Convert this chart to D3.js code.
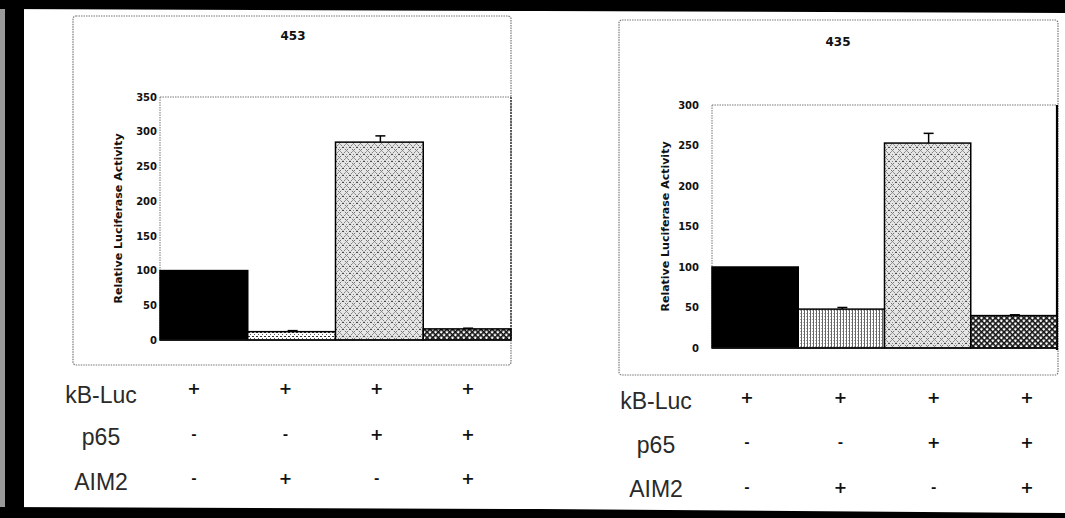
<!DOCTYPE html>
<html><head><meta charset="utf-8">
<script src="https://cdn.jsdelivr.net/npm/d3@7"></script>
<style>html,body{margin:0;padding:0;background:#fff;}svg{display:block;}</style>
</head><body>
<svg id="chart" width="1065" height="518"></svg>
<script>
// ---------- data ----------
const conditions = ["c1", "c2", "c3", "c4"];
const rowLabels = ["kB-Luc", "p65", "AIM2"];
const kbLucSigns = ["+", "+", "+", "+"];
const p65Signs = ["-", "-", "+", "+"];
const aim2Signs = ["-", "+", "-", "+"];
const titles = ["453", "435"];
const values453 = [100, 12, 285, 16];
const errors453 = [0, 1.5, 9, 1];
const values435 = [100, 48, 253, 40];
const errors435 = [0, 2, 12, 1];
const ticks453 = [0, 50, 100, 150, 200, 250, 300, 350];
const ticks435 = [0, 50, 100, 150, 200, 250, 300];
const yTitle = "Relative Luciferase Activity";

// ---------- layout ----------
const panels = [
  { title: titles[0], values: values453, errors: errors453, ticks: ticks453, max: 350,
    box: [73, 16, 438, 349], plot: [160, 511, 97, 340], titleX: 293, titleY: 40, tickPad: 3,
    yTitleX: 118, bar2: "patDots", rightBorder: "dotted",
    labelX: 101, labelY: [403, 445, 490], symX: [194, 468], symY: [388, 434, 478] },
  { title: titles[1], values: values435, errors: errors435, ticks: ticks435, max: 300,
    box: [619, 20, 439, 355], plot: [712, 1057, 105, 348], titleX: 838, titleY: 46, tickPad: 13,
    yTitleX: 665, bar2: "patVert", rightBorder: "solid",
    labelX: 656, labelY: [409, 453, 497], symX: [747, 1027], symY: [397, 442, 487] }
];

const svg = d3.select("#chart");
const defs = svg.append("defs");

// patterns
const pDots = defs.append("pattern").attr("id", "patDots").attr("patternUnits", "userSpaceOnUse")
  .attr("width", 4).attr("height", 4);
pDots.append("rect").attr("width", 4).attr("height", 4).attr("fill", "#fff");
pDots.append("rect").attr("x", 0).attr("y", 0).attr("width", 2).attr("height", 1).attr("fill", "#333");
pDots.append("rect").attr("x", 2).attr("y", 2).attr("width", 1).attr("height", 1).attr("fill", "#555");

const pVert = defs.append("pattern").attr("id", "patVert").attr("patternUnits", "userSpaceOnUse")
  .attr("width", 3).attr("height", 3);
pVert.append("rect").attr("width", 3).attr("height", 3).attr("fill", "#fff");
pVert.append("rect").attr("x", 0).attr("width", 1).attr("height", 3).attr("fill", "#666");
pVert.append("rect").attr("x", 2).attr("y", 1).attr("width", 1).attr("height", 1).attr("fill", "#aaa");

const pWeave = defs.append("pattern").attr("id", "patWeave").attr("patternUnits", "userSpaceOnUse")
  .attr("width", 7).attr("height", 7);
pWeave.append("rect").attr("width", 7).attr("height", 7).attr("fill", "#e6e6e6");
pWeave.append("path").attr("d", "M0,0 L7,7 M7,0 L0,7")
  .attr("stroke", "#4a4a4a").attr("stroke-width", 1).attr("stroke-dasharray", "1.6,1.6").attr("fill", "none");
pWeave.append("rect").attr("x", 3).attr("y", 0).attr("width", 1).attr("height", 1).attr("fill", "#888");

const pCross = defs.append("pattern").attr("id", "patCross").attr("patternUnits", "userSpaceOnUse")
  .attr("width", 4).attr("height", 4).attr("patternTransform", "rotate(45)");
pCross.append("rect").attr("width", 4).attr("height", 4).attr("fill", "#fff");
pCross.append("rect").attr("width", 4).attr("height", 1.6).attr("fill", "#111");
pCross.append("rect").attr("width", 1.6).attr("height", 4).attr("fill", "#111");

// ---------- frame ----------
svg.append("rect").attr("x", 0).attr("y", 0).attr("width", 5).attr("height", 518).attr("fill", "#999");
svg.append("rect").attr("x", 5).attr("y", 0).attr("width", 19).attr("height", 518).attr("fill", "#000");
svg.append("path").attr("d", "M0,0 L1065,0 L1065,13 L540,11 L0,9 Z").attr("fill", "#000");
svg.append("path").attr("d", "M0,507 L540,509 L1065,513 L1065,518 L0,518 Z").attr("fill", "#000");

// ---------- panels ----------
panels.forEach(p => {
  const g = svg.append("g");
  const [bx, by, bw, bh] = p.box;
  g.append("rect").attr("x", bx).attr("y", by).attr("width", bw).attr("height", bh)
    .attr("rx", 3).attr("fill", "none").attr("stroke", "#777").attr("stroke-width", 1.2)
    .attr("stroke-dasharray", "1.5,1");

  g.append("text").attr("x", p.titleX).attr("y", p.titleY)
    .attr("text-anchor", "middle").attr("font-family", "DejaVu Sans").attr("font-weight", "bold")
    .attr("font-size", 12).attr("fill", "#111").text(p.title);

  const [x0, x1, yTop, yBot] = p.plot;
  const x = d3.scaleBand().domain(conditions).range([x0, x1]).padding(0);
  const y = d3.scaleLinear().domain([0, p.max]).range([yBot, yTop]);

  // plot area borders
  g.append("line").attr("x1", x0).attr("x2", x1).attr("y1", yTop).attr("y2", yTop)
    .attr("stroke", "#777").attr("stroke-dasharray", "1.5,1");
  g.append("line").attr("x1", x0).attr("x2", x0).attr("y1", yTop).attr("y2", yBot)
    .attr("stroke", "#777").attr("stroke-dasharray", "1.5,1");
  if (p.rightBorder === "solid") {
    g.append("line").attr("x1", x1).attr("x2", x1).attr("y1", yTop).attr("y2", yBot + 2)
      .attr("stroke", "#000").attr("stroke-width", 2.2);
  } else {
    g.append("line").attr("x1", x1).attr("x2", x1).attr("y1", yTop).attr("y2", yBot)
      .attr("stroke", "#333").attr("stroke-width", 1.4).attr("stroke-dasharray", "2,1");
  }

  // y axis
  const ax = g.append("g").attr("transform", `translate(${x0},0)`)
    .call(d3.axisLeft(y).tickValues(p.ticks).tickSize(0).tickPadding(p.tickPad).tickFormat(d3.format("d")));
  ax.select(".domain").remove();
  ax.selectAll("text").attr("font-family", "DejaVu Sans").attr("font-weight", "bold")
    .attr("font-size", 10).attr("fill", "#111");

  g.append("text").attr("transform", `translate(${p.yTitleX},${(yTop + yBot) / 2}) rotate(-90)`)
    .attr("text-anchor", "middle").attr("dominant-baseline", "central")
    .attr("font-family", "DejaVu Sans").attr("font-weight", "bold").attr("font-size", 11)
    .attr("fill", "#111").text(yTitle);

  const fills = ["#000", `url(#${p.bar2})`, "url(#patWeave)", "url(#patCross)"];
  g.selectAll(".bar").data(p.values).join("rect")
    .attr("x", (d, i) => x(conditions[i]))
    .attr("y", d => y(d))
    .attr("width", x.bandwidth())
    .attr("height", d => y(0) - y(d))
    .attr("fill", (d, i) => fills[i])
    .attr("stroke", "#000").attr("stroke-width", 1.5);

  g.append("line").attr("x1", x0).attr("x2", x1).attr("y1", y(0)).attr("y2", y(0))
    .attr("stroke", "#111").attr("stroke-width", 1.6);

  // error bars (upper)
  p.values.forEach((v, i) => {
    const e = p.errors[i];
    if (!e) return;
    const cx = x(conditions[i]) + x.bandwidth() / 2 + 1;
    g.append("line").attr("x1", cx).attr("x2", cx).attr("y1", y(v)).attr("y2", y(v + e))
      .attr("stroke", "#000").attr("stroke-width", 1.5);
    g.append("line").attr("x1", cx - 5).attr("x2", cx + 5).attr("y1", y(v + e)).attr("y2", y(v + e))
      .attr("stroke", "#000").attr("stroke-width", 1.5);
  });

  // condition table
  const sx = d3.scalePoint().domain(conditions).range(p.symX);
  const rows = [kbLucSigns, p65Signs, aim2Signs];
  rows.forEach((signs, r) => {
    g.append("text").attr("x", p.labelX).attr("y", p.labelY[r]).attr("text-anchor", "middle")
      .attr("font-family", "Liberation Sans, Arial").attr("font-size", 23).attr("fill", "#2a2a2a")
      .text(rowLabels[r]);
    g.selectAll(null).data(signs).join("text")
      .attr("x", (d, i) => sx(conditions[i]))
      .attr("y", p.symY[r])
      .attr("text-anchor", "middle").attr("dominant-baseline", "central")
      .attr("font-family", "DejaVu Sans").attr("font-weight", "bold")
      .attr("font-size", d => d === "+" ? 16 : 13).attr("fill", "#111")
      .text(d => d);
  });
});
</script>
</body></html>
